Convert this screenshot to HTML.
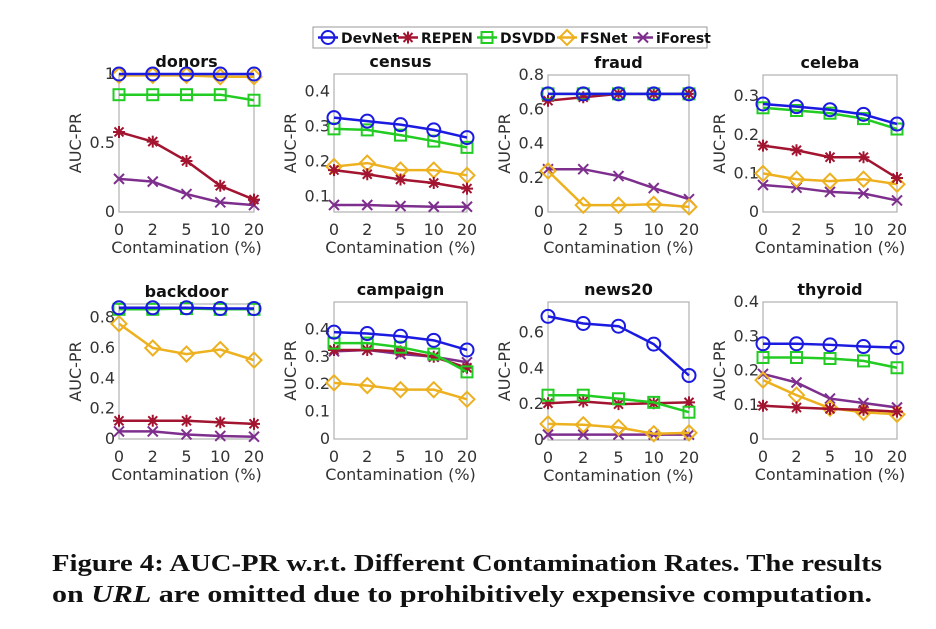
<!DOCTYPE html>
<html><head><meta charset="utf-8"><style>
body{margin:0;background:#fff;width:936px;height:624px;overflow:hidden}
svg text{font-family:"DejaVu Sans","Liberation Sans",sans-serif}
</style></head><body>
<svg id="fig" width="936" height="624" viewBox="0 0 936 624" xmlns="http://www.w3.org/2000/svg"></svg>
<script>
const categories = ["0","2","5","10","20"];
const seriesNames = ["DevNet","REPEN","DSVDD","FSNet","iForest"];
const panelNames = ["donors","census","fraud","celeba","backdoor","campaign","news20","thyroid"];
const donorsDevNet=[1,1,1,1,1], donorsREPEN=[0.58,0.51,0.37,0.19,0.09], donorsDSVDD=[0.85,0.85,0.85,0.85,0.81], donorsFSNet=[0.99,0.99,0.99,0.98,0.98], donorsIForest=[0.24,0.22,0.13,0.07,0.05];
const censusDevNet=[0.325,0.315,0.305,0.29,0.268], censusREPEN=[0.175,0.163,0.148,0.138,0.122], censusDSVDD=[0.293,0.29,0.275,0.258,0.24], censusFSNet=[0.185,0.195,0.175,0.175,0.16], censusIForest=[0.075,0.075,0.072,0.07,0.07];
const fraudDevNet=[0.69,0.69,0.69,0.69,0.69], fraudREPEN=[0.65,0.67,0.69,0.69,0.69], fraudDSVDD=[0.69,0.69,0.69,0.69,0.69], fraudFSNet=[0.24,0.04,0.04,0.045,0.03], fraudIForest=[0.25,0.25,0.21,0.14,0.075];
const celebaDevNet=[0.28,0.273,0.265,0.253,0.228], celebaREPEN=[0.172,0.16,0.142,0.142,0.088], celebaDSVDD=[0.27,0.263,0.256,0.242,0.215], celebaFSNet=[0.1,0.085,0.08,0.085,0.072], celebaIForest=[0.07,0.063,0.052,0.048,0.03];
const backdoorDevNet=[0.865,0.865,0.865,0.86,0.86], backdoorREPEN=[0.12,0.12,0.12,0.11,0.1], backdoorDSVDD=[0.855,0.855,0.86,0.855,0.855], backdoorFSNet=[0.76,0.6,0.56,0.59,0.52], backdoorIForest=[0.05,0.05,0.03,0.02,0.015];
const campaignDevNet=[0.39,0.385,0.375,0.36,0.325], campaignREPEN=[0.325,0.325,0.32,0.3,0.26], campaignDSVDD=[0.35,0.35,0.335,0.31,0.245], campaignFSNet=[0.205,0.195,0.18,0.18,0.145], campaignIForest=[0.32,0.325,0.31,0.3,0.28];
const news20DevNet=[0.69,0.65,0.635,0.535,0.36], news20REPEN=[0.205,0.215,0.2,0.205,0.21], news20DSVDD=[0.25,0.25,0.23,0.21,0.155], news20FSNet=[0.09,0.085,0.07,0.035,0.04], news20IForest=[0.03,0.03,0.03,0.03,0.03];
const thyroidDevNet=[0.278,0.278,0.275,0.27,0.267], thyroidREPEN=[0.097,0.092,0.088,0.085,0.08], thyroidDSVDD=[0.238,0.238,0.235,0.228,0.208], thyroidFSNet=[0.172,0.128,0.09,0.078,0.072], thyroidIForest=[0.19,0.165,0.118,0.105,0.092];
const donorsTicks=["0","0.5","1"], censusTicks=["0.1","0.2","0.3","0.4"], fraudTicks=["0","0.2","0.4","0.6","0.8"], celebaTicks=["0","0.1","0.2","0.3"];
const backdoorTicks=["0","0.2","0.4","0.6","0.8"], campaignTicks=["0","0.1","0.2","0.3","0.4"], news20Ticks=["0","0.2","0.4","0.6"], thyroidTicks=["0","0.1","0.2","0.3","0.4"];

const panelData={
 donors:[donorsDevNet,donorsREPEN,donorsDSVDD,donorsFSNet,donorsIForest],
 census:[censusDevNet,censusREPEN,censusDSVDD,censusFSNet,censusIForest],
 fraud:[fraudDevNet,fraudREPEN,fraudDSVDD,fraudFSNet,fraudIForest],
 celeba:[celebaDevNet,celebaREPEN,celebaDSVDD,celebaFSNet,celebaIForest],
 backdoor:[backdoorDevNet,backdoorREPEN,backdoorDSVDD,backdoorFSNet,backdoorIForest],
 campaign:[campaignDevNet,campaignREPEN,campaignDSVDD,campaignFSNet,campaignIForest],
 news20:[news20DevNet,news20REPEN,news20DSVDD,news20FSNet,news20IForest],
 thyroid:[thyroidDevNet,thyroidREPEN,thyroidDSVDD,thyroidFSNet,thyroidIForest]};
const panelTicks={donors:donorsTicks,census:censusTicks,fraud:fraudTicks,celeba:celebaTicks,backdoor:backdoorTicks,campaign:campaignTicks,news20:news20Ticks,thyroid:thyroidTicks};
const layout={
 donors:{x0:119,x1:254,y0:74,y1:212,lo:0,hi:1},
 census:{x0:334,x1:467,y0:74,y1:212,lo:0.055,hi:0.45},
 fraud:{x0:548,x1:689,y0:75,y1:212,lo:0,hi:0.8},
 celeba:{x0:763,x1:897,y0:75,y1:212,lo:0,hi:0.355},
 backdoor:{x0:119,x1:254,y0:304,y1:439,lo:0,hi:0.89},
 campaign:{x0:334,x1:467,y0:302,y1:439,lo:0,hi:0.5},
 news20:{x0:548,x1:689,y0:302,y1:440,lo:0,hi:0.77},
 thyroid:{x0:763,x1:897,y0:302,y1:439,lo:0,hi:0.4}};
const colors=["#1a1ae0","#a2142f","#22cc22","#edb120","#7e2f8e"];
const drawOrder=[4,3,1,2,0];

const NS="http://www.w3.org/2000/svg";
const svg=document.getElementById('fig');
function mk(tag,attrs,parent,text){const e=document.createElementNS(NS,tag);for(const k in attrs)e.setAttribute(k,attrs[k]);if(text!==undefined)e.textContent=text;(parent||svg).appendChild(e);return e;}
function marker(g,s,x,y,c){
 const a={fill:"none",stroke:c,"stroke-width":2};
 if(s===0)mk('circle',Object.assign({cx:x,cy:y,r:6.5},a),g);
 else if(s===1){const p=`M${x-6},${y}H${x+6}M${x},${y-6}V${y+6}M${x-4.5},${y-4.5}L${x+4.5},${y+4.5}M${x-4.5},${y+4.5}L${x+4.5},${y-4.5}`;mk('path',Object.assign({d:p},a),g);}
 else if(s===2)mk('rect',Object.assign({x:x-5.5,y:y-5.5,width:11,height:11},a),g);
 else if(s===3)mk('path',Object.assign({d:`M${x},${y-7.5}L${x+7.5},${y}L${x},${y+7.5}L${x-7.5},${y}Z`},a),g);
 else mk('path',Object.assign({d:`M${x-5},${y-5}L${x+5},${y+5}M${x-5},${y+5}L${x+5},${y-5}`},a),g);
}
panelNames.forEach(name=>{
 const L=layout[name];
 const g=mk('g',{});
 
 
 const xs=i=>L.x0+(L.x1-L.x0)*i/(categories.length-1);
 const ys=v=>L.y1-(v-L.lo)/(L.hi-L.lo)*(L.y1-L.y0);
 mk('rect',{x:L.x0,y:L.y0,width:L.x1-L.x0,height:L.y1-L.y0,fill:"none",stroke:"#b0b0b0","stroke-width":1.2},g);
 const t=mk('text',{x:(L.x0+L.x1)/2,y:L.y0-7,"text-anchor":"middle","font-size":16,"font-weight":"bold",fill:"#111"},g,name);
 
 
 categories.forEach((c,i)=>{mk('text',{x:xs(i),y:L.y1+23,"text-anchor":"middle","font-size":16,fill:"#333"},g,c);});
 const xl=mk('text',{x:(L.x0+L.x1)/2,y:L.y1+41,"text-anchor":"middle","font-size":16,fill:"#333"},g,"Contamination (%)");
 
 
 panelTicks[name].forEach(tk=>{mk('text',{x:L.x0-4,y:ys(parseFloat(tk))+5,"text-anchor":"end","font-size":16,fill:"#333"},g,tk);});
 const yl=mk('text',{transform:`translate(${L.x0-38},${(L.y0+L.y1)/2}) rotate(-90)`,"text-anchor":"middle","font-size":16,fill:"#333"},g,"AUC-PR");
 
 
 drawOrder.forEach(s=>{
  const vals=panelData[name][s];
  const sg=mk('g',{},g);
  
  
  mk('polyline',{points:vals.map((v,i)=>xs(i)+","+ys(v)).join(" "),fill:"none",stroke:colors[s],"stroke-width":2.5},sg);
  vals.forEach((v,i)=>marker(sg,s,xs(i),ys(v),colors[s]));
 });
});
const lg=mk('g',{});


mk('rect',{x:313,y:27,width:394,height:21,fill:"#fff",stroke:"#999","stroke-width":1},lg);
const legX=[318,398,477,557,633];
seriesNames.forEach((n,s)=>{
 const e=mk('g',{},lg);
 
 
 const x=legX[s];
 mk('line',{x1:x,y1:37.5,x2:x+20,y2:37.5,stroke:colors[s],"stroke-width":2.5},e);
 marker(e,s,x+10,37.5,colors[s]);
 mk('text',{x:x+23,y:43,"font-size":14,"font-weight":"bold",fill:"#111"},e,n);
});
const c1=mk('text',{x:52,y:571,"font-size":24,"font-weight":"bold",textLength:830,lengthAdjust:"spacingAndGlyphs",style:"font-family:'Liberation Serif',serif",fill:"#111"},svg,"Figure 4: AUC-PR w.r.t. Different Contamination Rates. The results");


const c2=mk('text',{x:52,y:602,"font-size":24,"font-weight":"bold",textLength:820,lengthAdjust:"spacingAndGlyphs",style:"font-family:'Liberation Serif',serif",fill:"#111"},svg);


c2.appendChild(document.createTextNode("on "));
const it=mk('tspan',{"font-style":"italic"},c2,"URL");
c2.appendChild(document.createTextNode(" are omitted due to prohibitively expensive computation."));
</script>
</body></html>
